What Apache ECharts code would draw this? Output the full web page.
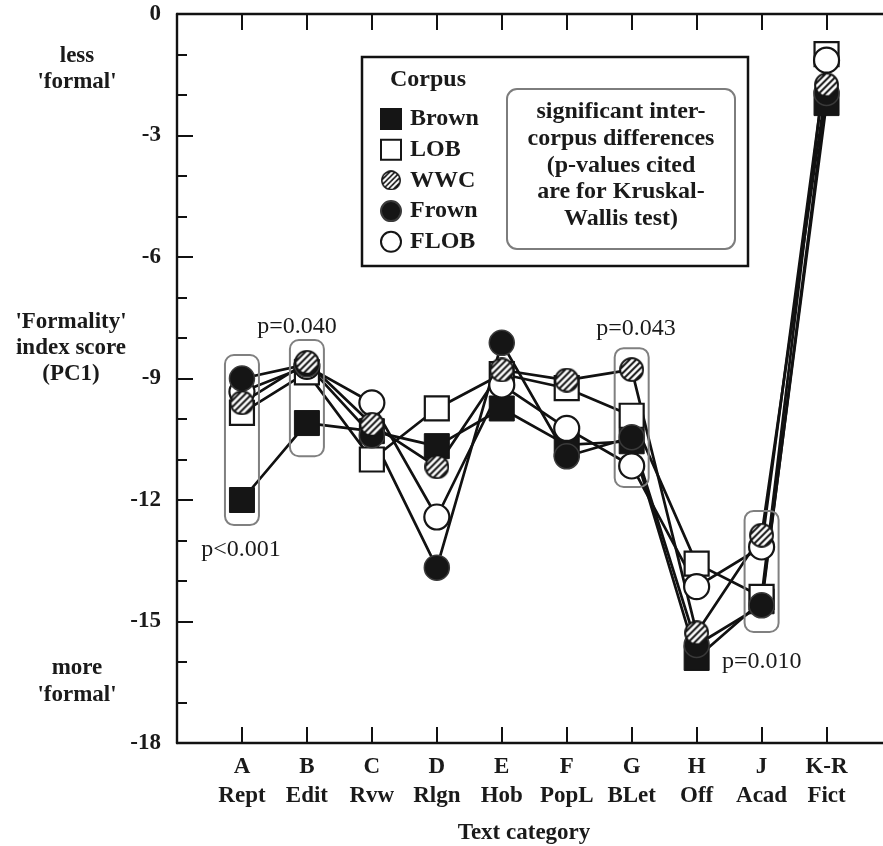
<!DOCTYPE html>
<html>
<head>
<meta charset="utf-8">
<title>Formality index by text category</title>
<script src="https://cdn.jsdelivr.net/npm/echarts@6/dist/echarts.min.js"></script>
<style>
  html, body { margin: 0; padding: 0; background: #fff; }
  #chart { width: 883px; height: 846px; }
</style>
</head>
<body>
<div id="chart"></div>
<script>
// Text categories (letter code + short name), placed at x = 1..10
const categoryCodes = ['A', 'B', 'C', 'D', 'E', 'F', 'G', 'H', 'J', 'K-R'];
const categoryNames = ['Rept', 'Edit', 'Rvw', 'Rlgn', 'Hob', 'PopL', 'BLet', 'Off', 'Acad', 'Fict'];

// Mean 'formality' (PC1) score per corpus and category
const brown = [-12.0, -10.1, -10.3, -10.67, -9.74, -10.64, -10.55, -15.9, -14.5, -2.2];
const lob   = [-9.85, -8.85, -11.0, -9.74, -8.89, -9.24, -9.92, -13.57, -14.39, -0.99];
const wwc   = [-9.6, -8.6, -10.13, -11.18, -8.79, -9.04, -8.78, -15.28, -12.87, -1.75];
const frown = [-9.0, -8.65, -10.4, -13.67, -8.12, -10.92, -10.45, -15.58, -14.6, -1.95];
const flob  = [-9.33, -8.7, -9.6, -12.42, -9.16, -10.23, -11.16, -14.14, -13.16, -1.14];

// Y axis ticks
const yTicks = [0, -3, -6, -9, -12, -15, -18];

// Categories with significant differences and the score span each box covers
const sigCategories = [0, 1, 6, 8];
const sigUpper = [-8.42, -8.05, -8.25, -12.27];
const sigLower = [-12.62, -10.92, -11.68, -15.26];

const FONT = '"Liberation Serif", "Times New Roman", serif';
const INK = '#1a1a1a';

// hatched circle marker for WWC, drawn once and used as an image symbol
function hatchedCircle(px) {
  const k = 4;               // draw at higher resolution for smooth scaling
  const s = px * k;
  const c = document.createElement('canvas');
  c.width = s; c.height = s;
  const g = c.getContext('2d');
  const r = s / 2 - 1.1 * k;
  g.save();
  g.beginPath();
  g.arc(s / 2, s / 2, r, 0, Math.PI * 2);
  g.fillStyle = '#ffffff';
  g.fill();
  g.clip();
  g.strokeStyle = '#151515';
  g.lineWidth = 2 * k;
  const step = 6.5 * k;
  for (let d = -s; d < 2 * s; d += step) {
    g.beginPath();
    g.moveTo(d, s);
    g.lineTo(d + s, 0);
    g.stroke();
  }
  g.restore();
  g.beginPath();
  g.arc(s / 2, s / 2, r, 0, Math.PI * 2);
  g.lineWidth = 2 * k;
  g.strokeStyle = '#151515';
  g.stroke();
  return 'image://' + c.toDataURL('image/png');
}
const wwcSymbol = hatchedCircle(25);

const corpora = [
  { name: 'Brown', data: brown, symbol: 'rect', size: 25, style: { color: '#151515', borderColor: '#151515', borderWidth: 1 } },
  { name: 'LOB',   data: lob,   symbol: 'rect', size: 24, style: { color: '#ffffff', borderColor: '#151515', borderWidth: 2.2 } },
  { name: 'FLOB',  data: flob,  symbol: 'circle', size: 25, style: { color: '#ffffff', borderColor: '#151515', borderWidth: 2.2 } },
  { name: 'Frown', data: frown, symbol: 'circle', size: 25, style: { color: '#151515', borderColor: '#3a3a3a', borderWidth: 1.5 } },
  { name: 'WWC',   data: wwc,   symbol: wwcSymbol, size: 25, style: { color: '#888888' } }
];

const toPoints = arr => arr.map((v, i) => [i + 1, v]);

const series = [];
// connecting lines first, so every marker sits above every line
corpora.forEach(c => {
  series.push({
    name: c.name + ' line',
    type: 'line',
    data: toPoints(c.data),
    showSymbol: false,
    silent: true,
    z: 2,
    lineStyle: { color: '#111', width: 2.7 }
  });
});
corpora.forEach((c, k) => {
  series.push({
    name: c.name,
    type: 'scatter',
    data: toPoints(c.data),
    symbol: c.symbol,
    symbolSize: c.size,
    itemStyle: Object.assign({ opacity: 1 }, c.style),
    emphasis: { disabled: true },
    z: 3 + k
  });
});

const chart = echarts.init(document.getElementById('chart'), null, { renderer: 'canvas' });

const xCommon = {
  type: 'value',
  min: 0,
  max: 11,
  interval: 1,
  splitLine: { show: false },
  axisLine: { show: true, onZero: false, lineStyle: { color: '#111', width: 2.4 } },
  axisTick: { show: true, inside: true, length: 16, lineStyle: { color: '#111', width: 2 } }
};

const option = {
  animation: false,
  backgroundColor: '#ffffff',
  grid: { left: 177, width: 714.5, top: 14, bottom: 103, containLabel: false, outerBoundsMode: 'none' },
  xAxis: [
    Object.assign({}, xCommon, {
      position: 'bottom',
      axisLabel: {
        show: true,
        margin: 10,
        color: INK,
        fontFamily: FONT,
        fontWeight: 'bold',
        fontSize: 23,
        lineHeight: 29,
        formatter: v => (v >= 1 && v <= 10) ? categoryCodes[v - 1] + '\n' + categoryNames[v - 1] : ''
      }
    }),
    Object.assign({}, xCommon, {
      position: 'top',
      axisLabel: { show: false }
    })
  ],
  yAxis: {
    type: 'value',
    min: yTicks[yTicks.length - 1],
    max: yTicks[0],
    interval: 3,
    splitLine: { show: false },
    axisLine: { show: true, onZero: false, lineStyle: { color: '#111', width: 2.4 } },
    axisTick: { show: true, inside: true, length: 16, lineStyle: { color: '#111', width: 2 } },
    minorTick: { show: true, splitNumber: 3, length: 10, lineStyle: { color: '#111', width: 2 } },
    axisLabel: {
      margin: 16,
      color: INK,
      fontFamily: FONT,
      fontWeight: 'bold',
      fontSize: 23
    }
  },
  legend: {
    orient: 'vertical',
    left: 375,
    top: 102,
    itemWidth: 20,
    itemHeight: 20,
    itemGap: 6.7,
    selectedMode: false,
    data: [
      { name: 'Brown', icon: 'rect' },
      { name: 'LOB', icon: 'rect' },
      { name: 'WWC', icon: wwcSymbol },
      { name: 'Frown', icon: 'circle' },
      { name: 'FLOB', icon: 'circle' }
    ],
    textStyle: {
      color: INK,
      fontFamily: FONT,
      fontWeight: 'bold',
      fontSize: 24,
      lineHeight: 20,
      padding: [0, 0, 0, 4]
    }
  },
  series: series
};

chart.setOption(option);

// annotation layer: legend frame, notes, axis titles and significance boxes
const txt = (x, y, s, opts) => Object.assign({
  type: 'text',
  x: x, y: y,
  style: Object.assign({
    text: s,
    fill: INK,
    font: 'bold 23px ' + FONT,
    align: 'center',
    verticalAlign: 'middle'
  }, opts || {})
});

const graphics = [];

// legend frame and note box
graphics.push({ type: 'rect', shape: { x: 362, y: 57, width: 386, height: 209 }, style: { fill: '#fff', stroke: '#111', lineWidth: 2.5 }, z: 0 });
graphics.push({ type: 'rect', shape: { x: 507, y: 89, width: 228, height: 160, r: 10 }, style: { fill: 'none', stroke: '#7d7d7d', lineWidth: 2 }, z: 1 });
graphics.push(txt(428, 80, 'Corpus', { font: 'bold 24px ' + FONT }));
const noteLines = ['significant inter-', 'corpus differences', '(p-values cited', 'are for Kruskal-', 'Wallis test)'];
noteLines.forEach((s, i) => graphics.push(txt(621, 112 + i * 26.7, s, { font: 'bold 24px ' + FONT })));

// left-hand axis notes
graphics.push(txt(77, 56, 'less'));
graphics.push(txt(77, 82, "'formal'"));
graphics.push(txt(71, 322, "'Formality'"));
graphics.push(txt(71, 348, 'index score'));
graphics.push(txt(71, 374, '(PC1)'));
graphics.push(txt(77, 668, 'more'));
graphics.push(txt(77, 695, "'formal'"));

// x axis title
graphics.push(txt(524, 833, 'Text category'));

// significance boxes around the flagged categories
sigCategories.forEach((ci, k) => {
  const top = chart.convertToPixel({ gridIndex: 0 }, [ci + 1, sigUpper[k]]);
  const bot = chart.convertToPixel({ gridIndex: 0 }, [ci + 1, sigLower[k]]);
  const w = 34;
  graphics.push({
    type: 'rect',
    shape: { x: top[0] - w / 2, y: top[1], width: w, height: bot[1] - top[1], r: 9 },
    style: { fill: 'none', stroke: '#808080', lineWidth: 2 },
    z: 10
  });
});

// p-values
const pFont = '24px ' + FONT;
graphics.push(txt(241, 550, 'p<0.001', { font: pFont }));
graphics.push(txt(297, 327, 'p=0.040', { font: pFont }));
graphics.push(txt(636, 329, 'p=0.043', { font: pFont }));
graphics.push(txt(722, 662, 'p=0.010', { font: pFont, align: 'left' }));

chart.setOption({ graphic: { elements: graphics } });
</script>
</body>
</html>
